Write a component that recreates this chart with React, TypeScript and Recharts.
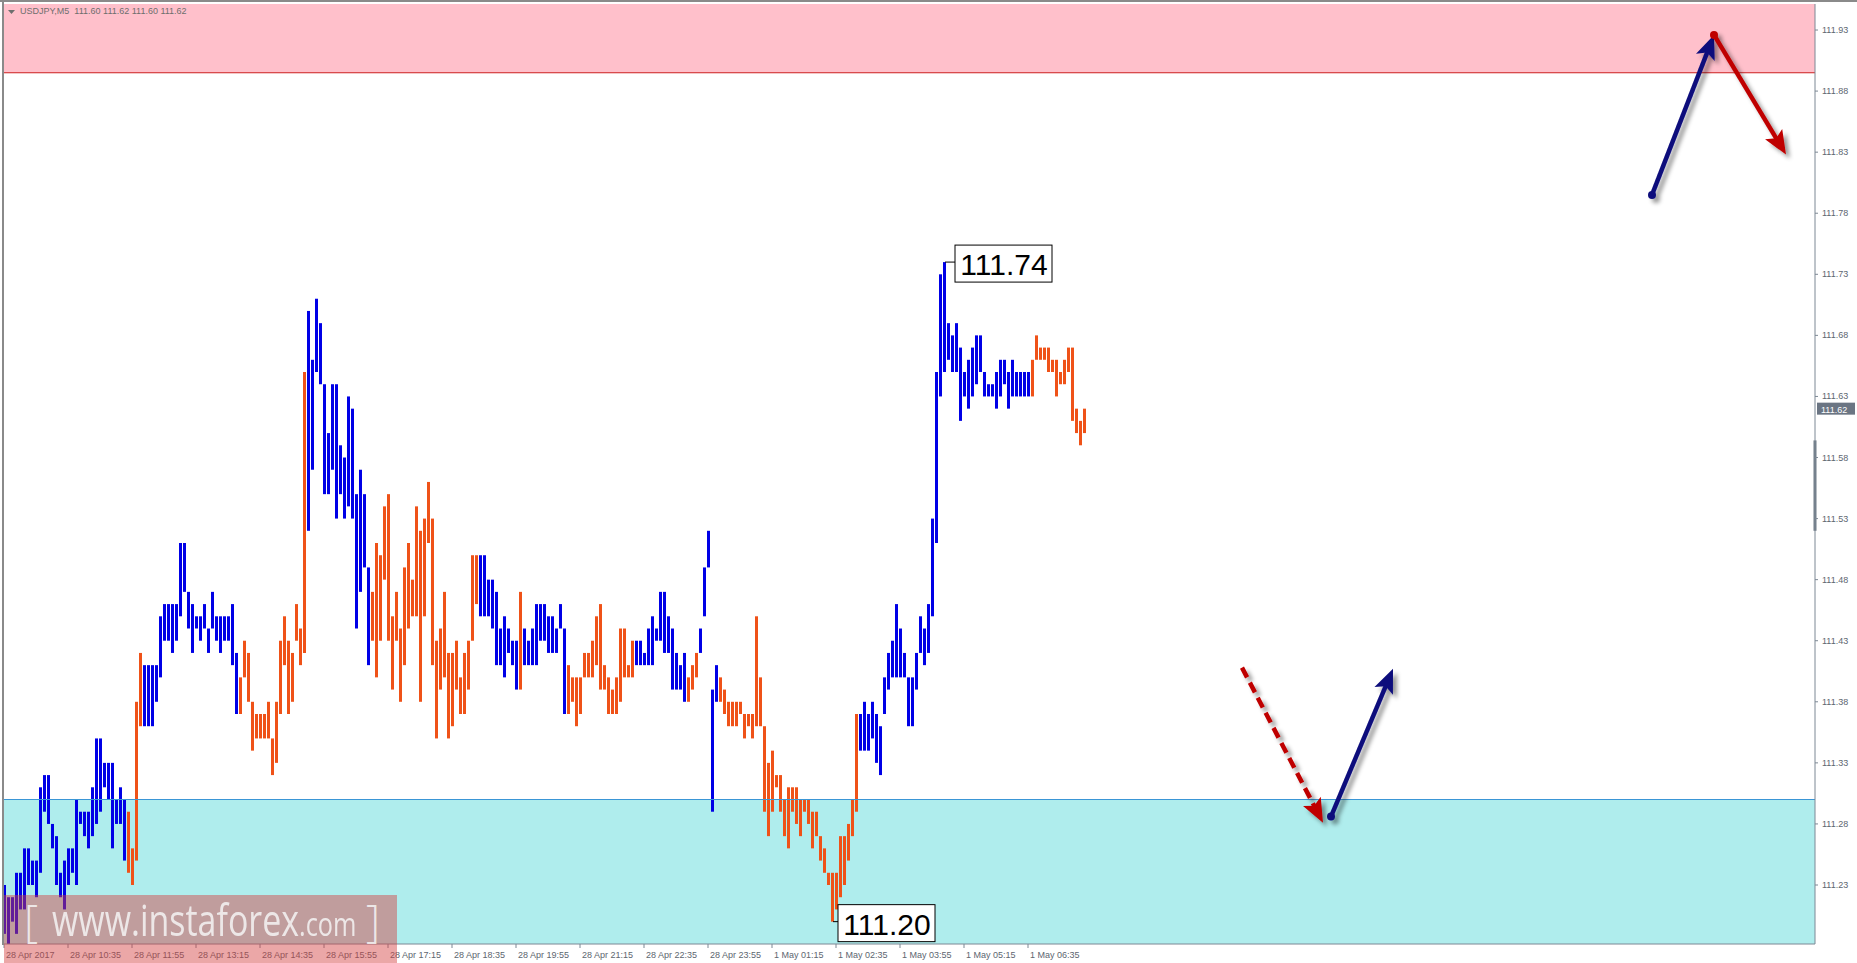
import { Bar, Cell, ComposedChart, ReferenceArea, ReferenceDot, ReferenceLine, XAxis, YAxis } from "recharts";

// USDJPY M5, one bar per 5 minutes, from 28 Apr 09:15 to 1 May 07:50
const highs = [
  111.23, 111.22, 111.22, 111.24, 111.24, 111.26, 111.26, 111.25, 111.25, 111.31,
  111.32, 111.32, 111.28, 111.27, 111.24, 111.25, 111.26, 111.26, 111.30, 111.29,
  111.29, 111.29, 111.31, 111.35, 111.35, 111.33, 111.33, 111.33, 111.30, 111.31,
  111.30, 111.29, 111.26, 111.38, 111.42, 111.41, 111.41, 111.41, 111.41, 111.45,
  111.46, 111.46, 111.46, 111.46, 111.51, 111.51, 111.47, 111.46, 111.45, 111.45,
  111.46, 111.44, 111.47, 111.45, 111.45, 111.45, 111.45, 111.46, 111.42, 111.40,
  111.43, 111.42, 111.38, 111.37, 111.37, 111.37, 111.38, 111.35, 111.38, 111.43,
  111.45, 111.43, 111.42, 111.46, 111.44, 111.65, 111.70, 111.66, 111.71, 111.69,
  111.64, 111.60, 111.64, 111.64, 111.59, 111.58, 111.63, 111.62, 111.55, 111.57,
  111.55, 111.49, 111.47, 111.51, 111.50, 111.54, 111.55, 111.45, 111.47, 111.44,
  111.49, 111.51, 111.48, 111.54, 111.52, 111.53, 111.56, 111.53, 111.43, 111.44,
  111.47, 111.42, 111.42, 111.43, 111.40, 111.42, 111.43, 111.50, 111.50, 111.50,
  111.50, 111.48, 111.48, 111.47, 111.44, 111.45, 111.44, 111.43, 111.43, 111.47,
  111.44, 111.43, 111.44, 111.46, 111.46, 111.46, 111.45, 111.45, 111.44, 111.46,
  111.44, 111.41, 111.40, 111.40, 111.40, 111.42, 111.42, 111.43, 111.45, 111.46,
  111.41, 111.40, 111.39, 111.40, 111.44, 111.44, 111.41, 111.43, 111.43, 111.43,
  111.42, 111.44, 111.45, 111.44, 111.47, 111.47, 111.45, 111.44, 111.42, 111.41,
  111.42, 111.40, 111.41, 111.42, 111.44, 111.49, 111.52, 111.39, 111.41, 111.40,
  111.39, 111.38, 111.38, 111.38, 111.38, 111.37, 111.37, 111.37, 111.45, 111.40,
  111.36, 111.33, 111.34, 111.32, 111.32, 111.30, 111.31, 111.31, 111.31, 111.30,
  111.30, 111.30, 111.29, 111.29, 111.27, 111.26, 111.24, 111.24, 111.24, 111.27,
  111.27, 111.28, 111.30, 111.37, 111.37, 111.38, 111.37, 111.38, 111.37, 111.36,
  111.40, 111.42, 111.43, 111.46, 111.44, 111.42, 111.40, 111.40, 111.42, 111.45,
  111.44, 111.46, 111.53, 111.65, 111.73, 111.74, 111.69, 111.68, 111.69, 111.67,
  111.65, 111.66, 111.67, 111.68, 111.68, 111.65, 111.64, 111.64, 111.65, 111.66,
  111.66, 111.65, 111.66, 111.65, 111.65, 111.65, 111.65, 111.66, 111.68, 111.67,
  111.67, 111.67, 111.66, 111.66, 111.65, 111.66, 111.67, 111.67, 111.62, 111.61,
  111.62,
];

const lows = [
  111.19, 111.18, 111.20, 111.19, 111.21, 111.21, 111.23, 111.23, 111.22, 111.24,
  111.29, 111.28, 111.26, 111.23, 111.22, 111.21, 111.23, 111.24, 111.23, 111.28,
  111.27, 111.26, 111.27, 111.28, 111.29, 111.31, 111.30, 111.26, 111.28, 111.28,
  111.25, 111.24, 111.23, 111.25, 111.36, 111.36, 111.36, 111.36, 111.38, 111.40,
  111.43, 111.43, 111.42, 111.43, 111.45, 111.47, 111.44, 111.42, 111.44, 111.43,
  111.44, 111.42, 111.44, 111.43, 111.42, 111.43, 111.43, 111.41, 111.37, 111.37,
  111.40, 111.38, 111.34, 111.35, 111.35, 111.35, 111.35, 111.32, 111.33, 111.37,
  111.41, 111.37, 111.38, 111.43, 111.41, 111.42, 111.52, 111.57, 111.65, 111.64,
  111.55, 111.55, 111.57, 111.53, 111.55, 111.53, 111.54, 111.53, 111.44, 111.47,
  111.49, 111.41, 111.43, 111.40, 111.43, 111.48, 111.43, 111.39, 111.43, 111.38,
  111.41, 111.44, 111.45, 111.45, 111.38, 111.45, 111.51, 111.41, 111.35, 111.39,
  111.40, 111.35, 111.36, 111.39, 111.37, 111.37, 111.39, 111.43, 111.46, 111.45,
  111.45, 111.45, 111.44, 111.41, 111.41, 111.40, 111.42, 111.41, 111.39, 111.39,
  111.41, 111.41, 111.41, 111.41, 111.43, 111.43, 111.42, 111.42, 111.42, 111.44,
  111.37, 111.37, 111.38, 111.36, 111.37, 111.40, 111.40, 111.40, 111.41, 111.39,
  111.39, 111.37, 111.37, 111.37, 111.38, 111.40, 111.40, 111.40, 111.41, 111.41,
  111.41, 111.41, 111.41, 111.43, 111.43, 111.42, 111.42, 111.39, 111.39, 111.39,
  111.38, 111.38, 111.39, 111.40, 111.42, 111.45, 111.49, 111.29, 111.38, 111.38,
  111.37, 111.36, 111.36, 111.36, 111.37, 111.35, 111.36, 111.35, 111.36, 111.36,
  111.29, 111.27, 111.29, 111.31, 111.29, 111.27, 111.26, 111.29, 111.28, 111.27,
  111.29, 111.28, 111.26, 111.27, 111.25, 111.24, 111.23, 111.20, 111.21, 111.22,
  111.23, 111.25, 111.27, 111.29, 111.34, 111.34, 111.34, 111.35, 111.33, 111.32,
  111.37, 111.39, 111.40, 111.40, 111.40, 111.40, 111.36, 111.36, 111.39, 111.42,
  111.41, 111.42, 111.45, 111.51, 111.63, 111.65, 111.66, 111.65, 111.65, 111.61,
  111.63, 111.62, 111.63, 111.64, 111.65, 111.63, 111.63, 111.63, 111.62, 111.63,
  111.64, 111.62, 111.63, 111.63, 111.63, 111.63, 111.63, 111.63, 111.66, 111.66,
  111.66, 111.65, 111.65, 111.63, 111.64, 111.64, 111.65, 111.61, 111.60, 111.59,
  111.60,
];

// wave colouring of the bars, as runs: [number of bars, direction]
const trendRuns: [number, "up" | "down"][] = [
  [31, "up"], [4, "down"], [24, "up"], [17, "down"], [16, "up"], [27, "down"],
  [10, "up"], [1, "down"], [11, "up"], [17, "down"], [13, "up"], [3, "down"],
  [5, "up"], [35, "down"], [43, "up"], [14, "down"],
];

const tickIndex = [0, 16, 32, 48, 64, 80, 96, 112, 128, 144, 160, 176, 192, 208, 224, 240, 256];
const tickLabels = [
  "28 Apr 2017", "28 Apr 10:35", "28 Apr 11:55", "28 Apr 13:15", "28 Apr 14:35", "28 Apr 15:55",
  "28 Apr 17:15", "28 Apr 18:35", "28 Apr 19:55", "28 Apr 21:15", "28 Apr 22:35", "28 Apr 23:55",
  "1 May 01:15", "1 May 02:35", "1 May 03:55", "1 May 05:15", "1 May 06:35",
];
const priceTicks = [
  111.23, 111.28, 111.33, 111.38, 111.43, 111.48, 111.53, 111.58, 111.63, 111.68, 111.73, 111.78,
  111.83, 111.88, 111.93,
];

const lastPrice = 111.62;
const resistanceFrom = 111.895;
const supportTo = 111.3;
// bars whose extremes carry a price tag
const markedHigh = 235;
const markedLow = 207;

// forecast arrows in (bar index, price)
const forecastArrows = [
  { from: [411.75, 111.795], to: [427.25, 111.926], color: "navy", dashed: false },
  { from: [427.25, 111.926], to: [445.25, 111.828], color: "red", dashed: false },
  { from: [309.25, 111.408], to: [329.5, 111.281], color: "red", dashed: true },
  { from: [331.5, 111.286], to: [347, 111.407], color: "navy", dashed: false },
];

const SLOTS = 453;
const PRICE_MIN = 111.1817;
const PRICE_MAX = 111.9513;
const UP = "#0000e6";
const DOWN = "#ef5218";
const NAVY = "#0c0c7c";
const DARK_RED = "#bf0000";
const AXIS = "#7d8894";
const LABEL = "#5d6670";

const barColors: string[] = trendRuns.flatMap(([n, d]) => Array(n).fill(d === "up" ? UP : DOWN));
const rows = highs.map((h, i) => ({ idx: i, range: [lows[i], h] }));

const makeArrow = (color: string, dashed: boolean, id: string) => (p: any) => {
  const { x1, y1, x2, y2 } = p;
  const len = Math.hypot(x2 - x1, y2 - y1);
  const ux = (x2 - x1) / len;
  const uy = (y2 - y1) / len;
  const head = 24;
  const half = 10;
  const bx = x2 - ux * head;
  const by = y2 - uy * head;
  const pts = `${x2},${y2} ${bx - uy * half},${by + ux * half} ${bx + ux * 5},${by + uy * 5} ${bx + uy * half},${by - ux * half}`;
  return (
    <g>
      <defs>
        <filter id={id} x="-50%" y="-50%" width="200%" height="200%">
          <feDropShadow dx="4" dy="4" stdDeviation="2" floodColor="#000" floodOpacity="0.4" />
        </filter>
      </defs>
      <g filter={`url(#${id})`}>
        <line
          x1={x1}
          y1={y1}
          x2={bx + ux * 6}
          y2={by + uy * 6}
          stroke={color}
          strokeWidth={4.5}
          strokeDasharray={dashed ? "11 6" : undefined}
        />
        <polygon points={pts} fill={color} />
        {!dashed && <circle cx={x1} cy={y1} r={4} fill={color} />}
      </g>
    </g>
  );
};

const priceTag = (text: string, dx: number) => (p: any) => {
  const { cx, cy } = p;
  const bx = cx + dx;
  return (
    <g>
      <line x1={cx} y1={cy} x2={bx} y2={cy} stroke="#000" strokeWidth={1} />
      <rect x={bx} y={cy - 17} width={97} height={37} fill="#fff" stroke="#000" strokeWidth={1} />
      <text x={bx + 49} y={cy + 13} textAnchor="middle" fontSize={30} fontFamily="Liberation Sans" fill="#000">
        {text}
      </text>
    </g>
  );
};

const lastPriceTag = (p: any) => (
  <g>
    <rect x={p.cx + 2} y={p.cy - 6} width={38} height={12} fill="#6b7583" />
    <text x={p.cx + 6} y={p.cy + 4} fontSize={9} fontFamily="Liberation Sans" fill="#fff">
      {lastPrice.toFixed(2)}
    </text>
  </g>
);

const TimeTick = (p: any) => {
  const k = tickIndex.indexOf(p.payload.value);
  return (
    <g>
      <line x1={p.x - 1} y1={p.y} x2={p.x - 1} y2={p.y + 4} stroke={AXIS} />
      <text x={p.x + 1} y={p.y + 14} fontSize={9} fontFamily="Liberation Sans" fill={LABEL}>
        {tickLabels[k]}
      </text>
    </g>
  );
};

const PriceTick = (p: any) => (
  <g>
    <line x1={p.x} y1={p.y} x2={p.x + 3} y2={p.y} stroke={AXIS} />
    <text x={p.x + 7} y={p.y + 3} fontSize={9} fontFamily="Liberation Sans" fill={LABEL}>
      {Number(p.payload.value).toFixed(2)}
    </text>
  </g>
);

export default function App() {
  return (
    <div style={{ position: "absolute", left: 0, top: 0, width: 1857, height: 963, background: "#fff", overflow: "hidden" }}>
      <ComposedChart width={1857} height={963} data={rows} margin={{ top: 4, right: 0, bottom: 0, left: 3 }}>
        <XAxis
          dataKey="idx"
          type="number"
          domain={[-0.5, SLOTS - 0.5]}
          allowDataOverflow
          ticks={tickIndex}
          interval={0}
          height={19}
          tickSize={0}
          tickMargin={0}
          tick={<TimeTick />}
          axisLine={{ stroke: AXIS }}
        />
        <YAxis
          orientation="right"
          type="number"
          domain={[PRICE_MIN, PRICE_MAX]}
          allowDataOverflow
          ticks={priceTicks}
          interval={0}
          width={42}
          tickSize={0}
          tickMargin={0}
          tick={<PriceTick />}
          axisLine={{ stroke: AXIS }}
        />
        <ReferenceArea y1={resistanceFrom} y2={PRICE_MAX} fill="#ffc0cb" fillOpacity={1} stroke="none" ifOverflow="hidden" />
        <ReferenceArea y1={PRICE_MIN} y2={supportTo} fill="#afeded" fillOpacity={1} stroke="none" ifOverflow="hidden" />
        <ReferenceLine y={resistanceFrom} stroke="#cc1f1f" strokeWidth={1} />
        <ReferenceLine y={supportTo} stroke="#3a96d6" strokeWidth={1} />
        <Bar dataKey="range" barSize={3} isAnimationActive={false}>
          {rows.map((r) => (
            <Cell key={r.idx} fill={barColors[r.idx]} />
          ))}
        </Bar>
        {forecastArrows.map((a, i) => (
          <ReferenceLine
            key={i}
            segment={[
              { x: a.from[0], y: a.from[1] },
              { x: a.to[0], y: a.to[1] },
            ]}
            ifOverflow="visible"
            shape={makeArrow(a.color === "navy" ? NAVY : DARK_RED, a.dashed, `arrow-shadow-${i}`)}
          />
        ))}
        <ReferenceDot
          x={markedHigh}
          y={highs[markedHigh]}
          ifOverflow="visible"
          shape={priceTag(highs[markedHigh].toFixed(2), 10)}
        />
        <ReferenceDot
          x={markedLow}
          y={lows[markedLow]}
          ifOverflow="visible"
          shape={priceTag(lows[markedLow].toFixed(2), 5)}
        />
        <ReferenceDot x={SLOTS - 0.5} y={lastPrice} ifOverflow="visible" shape={lastPriceTag} />
        <ReferenceLine
          segment={[
            { x: SLOTS - 0.5, y: 111.594 },
            { x: SLOTS - 0.5, y: 111.52 },
          ]}
          stroke="#6f7a86"
          strokeWidth={3}
          ifOverflow="visible"
        />
      </ComposedChart>

      {/* window frame */}
      <div style={{ position: "absolute", left: 0, top: 0, width: 1857, height: 2, background: "#8a8a8a" }} />
      <div style={{ position: "absolute", left: 2, top: 0, width: 2, height: 945, background: "#8a8a8a" }} />

      {/* symbol header */}
      <svg style={{ position: "absolute", left: 8, top: 10 }} width={7} height={5}>
        <polygon points="0,0 7,0 3.5,4" fill="#6e6e6e" />
      </svg>
      <div
        style={{
          position: "absolute",
          left: 20,
          top: 6,
          fontFamily: "Liberation Sans",
          fontSize: 9,
          color: "#6e6e6e",
          whiteSpace: "pre",
        }}
      >
        {"USDJPY,M5  111.60 111.62 111.60 111.62"}
      </div>

      {/* watermark */}
      <div
        style={{
          position: "absolute",
          left: 4,
          top: 895,
          width: 393,
          height: 68,
          background: "rgba(212, 63, 63, 0.46)",
          color: "rgba(245, 245, 245, 0.85)",
          fontFamily: "Open Sans",
          whiteSpace: "pre",
          lineHeight: 1,
        }}
      >
        <span style={{ position: "absolute", left: 20, top: 3, fontSize: 44, fontWeight: 300 }}>[</span>
        <span
          style={{
            position: "absolute",
            left: 48,
            top: 3,
            fontSize: 43,
            transform: "scaleX(0.79)",
            transformOrigin: "0 0",
          }}
        >
          www.instaforex<span style={{ fontSize: 32 }}>.com</span>
        </span>
        <span style={{ position: "absolute", left: 362, top: 3, fontSize: 44, fontWeight: 300 }}>]</span>
      </div>
    </div>
  );
}
